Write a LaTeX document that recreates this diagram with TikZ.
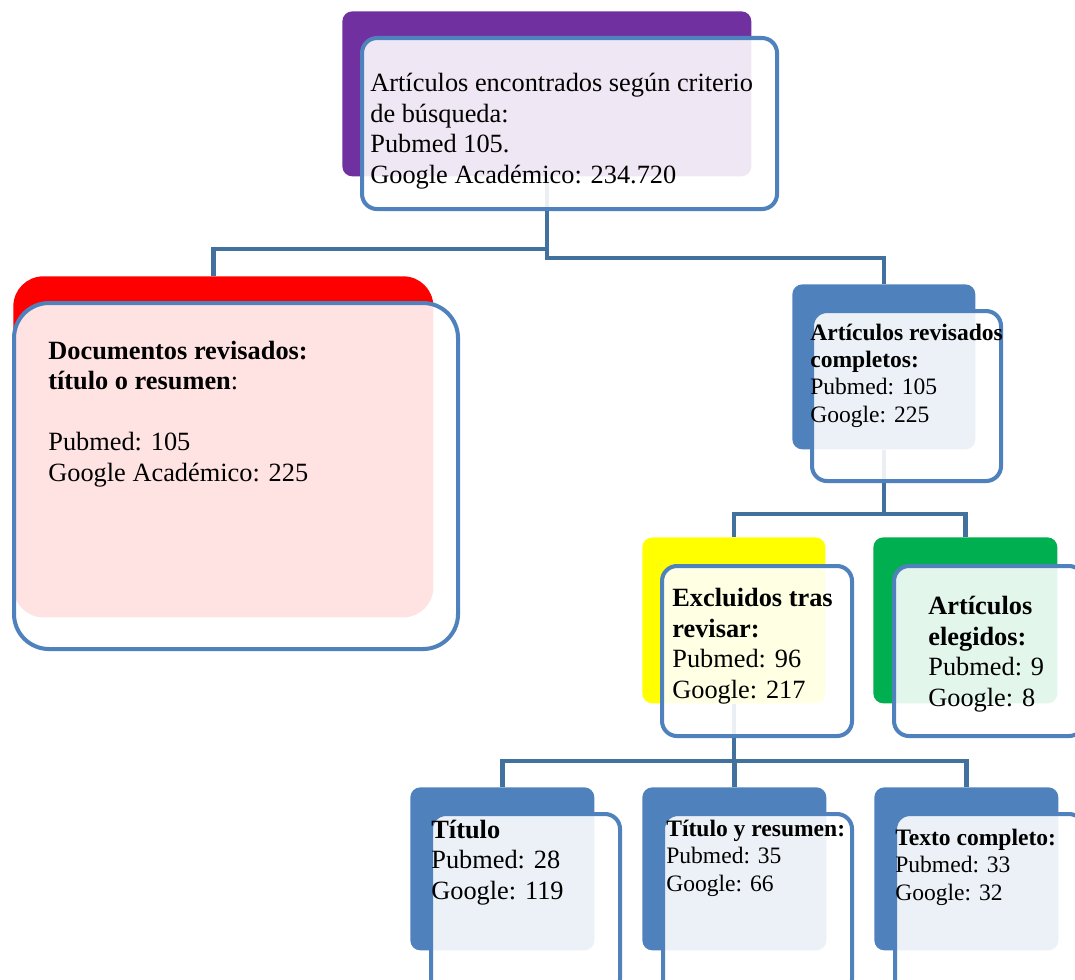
\documentclass[tikz,border=0pt]{standalone}
\usepackage{fontspec}
\setmainfont{Liberation Serif}

\definecolor{topviolet}{RGB}{112,48,160}
\definecolor{boxred}{RGB}{255,0,0}
\definecolor{boxyellow}{RGB}{255,255,0}
\definecolor{boxgreen}{RGB}{0,176,80}
\definecolor{boxblue}{RGB}{79,129,189}
\definecolor{linkblue}{RGB}{65,113,156}

\begin{document}
\begin{tikzpicture}[x=0.02cm, y=-0.02cm]
			\tikzstyle{back}=[rectangle, anchor=north west, inner sep=0pt, rounded corners=0.2cm]
			\tikzstyle{front}=[back, draw=boxblue, line width=2.3pt, fill=white, fill opacity=0.89, rounded corners=0.3cm]
			\tikzstyle{link}=[draw=linkblue, line width=2.5pt]
			\tikzstyle{big text}=[anchor=base west, align=left, inner sep=0pt, font=\fontsize{15}{17.3}\selectfont]
			\tikzstyle{small text}=[big text, font=\fontsize{13.4}{15.5}\selectfont]
			
			% Define the size of one pixel of the layout
			\def\pxu{0.02cm}
			
			\clip (0,0) rectangle (1075,980);
			
			% Draw the coloured back boxes
			\node[back, fill=topviolet, minimum width=409*\pxu, minimum height=165*\pxu] (B-top) at (342,11) {};
			\node[back, fill=boxred, rounded corners=0.6cm, minimum width=420*\pxu, minimum height=341*\pxu] (B-red) at (13,276) {};
			\node[back, fill=boxblue, minimum width=183*\pxu, minimum height=165*\pxu] (B-rev) at (792,284) {};
			\node[back, fill=boxyellow, minimum width=183*\pxu, minimum height=166*\pxu] (B-exc) at (642,537) {};
			\node[back, fill=boxgreen, minimum width=184*\pxu, minimum height=166*\pxu] (B-ele) at (873,537) {};
			\foreach \name / \x in {tit/410, res/642, tex/874}
			\node[back, fill=boxblue, minimum width=184*\pxu, minimum height=163*\pxu] (B-\name) at (\x,787) {};
			
			% Connect the boxes
			\draw[link] (B-top.south) -- ++(0,72) -| ([xshift=-0.2cm]B-red.north);
			\draw[link] (B-top.south) -- ++(0,81) -| (B-rev.north);
			\foreach \dest in {exc,ele}
			\draw[link] (B-rev.south) -- ++(0,64) -| (B-\dest.north);
			\foreach \dest in {tit,res,tex}
			\draw[link] (B-exc.south) -- ++(0,57) -| (B-\dest.north);
			
			% Draw the framed front boxes
			\node[front, minimum width=415*\pxu, minimum height=171*\pxu] (F-top) at (360,36) {};
			\node[front, rounded corners=0.7cm, minimum width=444*\pxu, minimum height=346*\pxu] (F-red) at (12,301) {};
			\node[front, minimum width=189*\pxu, minimum height=170*\pxu] (F-rev) at (810,309) {};
			\node[front, minimum width=190*\pxu, minimum height=170*\pxu] (F-exc) at (660,564) {};
			\node[front, minimum width=190*\pxu, minimum height=170*\pxu] (F-ele) at (892,564) {};
			\foreach \name / \x in {tit/429, res/661, tex/893}
			\node[front, minimum width=189*\pxu, minimum height=180*\pxu] (F-\name) at (\x,812) {};
			
			% Write the texts (placed at the baseline of their last line)
			\node[big text] (T-top) at (370,183) {Artículos encontrados según criterio\\de búsqueda:\\Pubmed 105.\\Google Académico: 234.720};
			\node[big text] (T-red) at (48,481) {\textbf{Documentos revisados:}\\\textbf{título o resumen}:\\[17.3pt]Pubmed: 105\\Google Académico: 225};
			\node[small text] (T-rev) at (810,422) {\textbf{Artículos revisados}\\\textbf{completos:}\\Pubmed: 105\\Google: 225};
			\node[big text] (T-exc) at (672,698) {\textbf{Excluidos tras}\\\textbf{revisar:}\\Pubmed: 96\\Google: 217};
			\node[big text] (T-ele) at (928,706) {\textbf{Artículos}\\\textbf{elegidos:}\\Pubmed: 9\\Google: 8};
			\node[big text] (T-tit) at (431,899) {\textbf{Título}\\Pubmed: 28\\Google: 119};
			\node[small text] (T-res) at (666,891) {\textbf{Título y resumen:}\\Pubmed: 35\\Google: 66};
			\node[small text] (T-tex) at (895,900) {\textbf{Texto completo:}\\Pubmed: 33\\Google: 32};
		\end{tikzpicture}
\end{document}
